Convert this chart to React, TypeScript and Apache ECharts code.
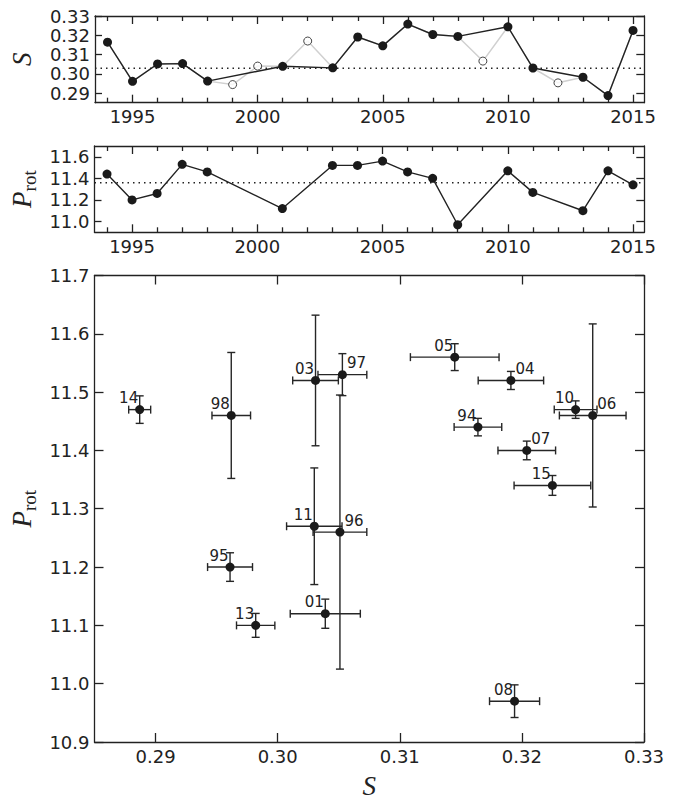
import React, { useEffect, useRef } from "react";
import * as echarts from "echarts";

// ---------- data ----------
const seasonLabels = ["94", "95", "96", "97", "98", "01", "03", "04", "05", "06", "07", "08", "10", "11", "13", "14", "15"];
const seasonYears = [1994, 1995, 1996, 1997, 1998, 2001, 2003, 2004, 2005, 2006, 2007, 2008, 2010, 2011, 2013, 2014, 2015];
const sValues = [0.3164, 0.2961, 0.3051, 0.3053, 0.2962, 0.3039, 0.3031, 0.3191, 0.3145, 0.3258, 0.3204, 0.3194, 0.3244, 0.3030, 0.2982, 0.2887, 0.3225];
const sErrors = [0.00195, 0.00184, 0.0022, 0.0020, 0.00158, 0.00287, 0.00187, 0.00268, 0.00363, 0.00273, 0.00236, 0.00205, 0.00175, 0.00227, 0.00157, 0.0009, 0.00314];
const pRotValues = [11.44, 11.20, 11.26, 11.53, 11.46, 11.12, 11.52, 11.52, 11.56, 11.46, 11.40, 10.97, 11.47, 11.27, 11.10, 11.47, 11.34];
const pRotErrors = [0.015, 0.0245, 0.235, 0.036, 0.108, 0.025, 0.112, 0.0155, 0.023, 0.157, 0.016, 0.028, 0.015, 0.10, 0.0205, 0.0236, 0.017];

const openYears = [1999, 2000, 2002, 2009, 2012];
const openSValues = [0.2944, 0.3040, 0.3170, 0.3066, 0.2953];

const sMeanLevel = 0.3029;
const pRotMeanLevel = 11.36;

const yearMajorTicks = [1995, 2000, 2005, 2010, 2015];
const yearMinorTicks = [1994, 1996, 1997, 1998, 1999, 2001, 2002, 2003, 2004, 2006, 2007, 2008, 2009, 2011, 2012, 2013, 2014];
const sTicks = [0.29, 0.30, 0.31, 0.32, 0.33];
const pRotPanelTicks = [11.0, 11.2, 11.4, 11.6];
const scatterXTicks = [0.29, 0.30, 0.31, 0.32, 0.33];
const scatterYTicks = [10.9, 11.0, 11.1, 11.2, 11.3, 11.4, 11.5, 11.6, 11.7];

// label placement (style): these season labels sit to the right of their point
const rightLabelSeasons = ["97", "96", "06", "04", "07"];

// ---------- style ----------
const INK = "#222";
const tickFont = { fontFamily: "DejaVu Sans", fontSize: 18, color: INK };
const titleFont = { fontFamily: "Liberation Serif", fontStyle: "italic", fontSize: 27, color: INK };
const protRich = {
  p: { fontFamily: "Liberation Serif", fontStyle: "italic", fontSize: 27, color: INK, verticalAlign: "bottom", padding: [0, 0, 3, 0] },
  s: { fontFamily: "Liberation Serif", fontSize: 19, color: INK, verticalAlign: "bottom" },
};

const YEAR_MIN = 1993.5;
const YEAR_MAX = 2015.45;

function xAx(grid: number, min: number, max: number, position: string, ticks: number[], len: number, line: boolean, labels?: number[], fmt?: (v: number) => string, extra: any = {}) {
  return {
    type: "value",
    gridIndex: grid,
    min,
    max,
    position,
    axisLine: { show: line, onZero: false, lineStyle: { color: INK, width: 1.3 } },
    axisTick: { show: true, inside: true, length: len, customValues: ticks, lineStyle: { color: INK, width: 1.3 } },
    axisLabel: labels ? { show: true, customValues: labels, formatter: fmt, margin: 5, ...tickFont } : { show: false },
    splitLine: { show: false },
    ...extra,
  };
}

function yAx(grid: number, min: number, max: number, position: string, ticks: number[], len: number, labels?: number[], fmt?: (v: number) => string, extra: any = {}) {
  return {
    type: "value",
    gridIndex: grid,
    min,
    max,
    position,
    axisLine: { show: true, onZero: false, lineStyle: { color: INK, width: 1.3 } },
    axisTick: { show: true, inside: true, length: len, customValues: ticks, lineStyle: { color: INK, width: 1.3 } },
    axisLabel: labels ? { show: true, customValues: labels, formatter: fmt, margin: 5, ...tickFont } : { show: false },
    splitLine: { show: false },
    ...extra,
  };
}

export default function App() {
  const ref = useRef<HTMLDivElement>(null);

  useEffect(() => {
    const chart = echarts.init(ref.current!, undefined, { renderer: "svg" });

    const filledS = seasonYears.map((y, i) => [y, sValues[i]]);
    const openS = openYears.map((y, i) => [y, openSValues[i]]);
    const allS = [...filledS, ...openS].sort((a, b) => a[0] - b[0]);
    const pRotSeries = seasonYears.map((y, i) => [y, pRotValues[i]]);
    const scatterData = seasonLabels.map((_, i) => [sValues[i], pRotValues[i], sErrors[i], pRotErrors[i]]);

    const f2 = (v: number) => v.toFixed(2);
    const f1 = (v: number) => v.toFixed(1);
    const fy = (v: number) => String(Math.round(v));

    const dotted = { type: [1.5, 4], color: INK, width: 1.5 };

    const option: any = {
      animation: false,
      backgroundColor: "#fff",
      grid: [
        { left: 94.5, top: 16, width: 549.8, height: 86.7 },
        { left: 94.5, top: 146, width: 549.8, height: 86.3 },
        { left: 94.5, top: 275.5, width: 549.5, height: 474 },
      ],
      xAxis: [
        xAx(0, YEAR_MIN, YEAR_MAX, "bottom", yearMajorTicks, 8, true, yearMajorTicks, fy),
        xAx(0, YEAR_MIN, YEAR_MAX, "bottom", yearMinorTicks, 5, false),
        xAx(0, YEAR_MIN, YEAR_MAX, "top", yearMajorTicks, 8, true),
        xAx(0, YEAR_MIN, YEAR_MAX, "top", yearMinorTicks, 5, false),
        xAx(1, YEAR_MIN, YEAR_MAX, "bottom", yearMajorTicks, 8, true, yearMajorTicks, fy),
        xAx(1, YEAR_MIN, YEAR_MAX, "bottom", yearMinorTicks, 5, false),
        xAx(1, YEAR_MIN, YEAR_MAX, "top", yearMajorTicks, 8, true),
        xAx(1, YEAR_MIN, YEAR_MAX, "top", yearMinorTicks, 5, false),
        xAx(2, 0.285, 0.33, "bottom", scatterXTicks, 9, true, scatterXTicks, f2, {
          name: "S",
          nameLocation: "middle",
          nameGap: 30,
          nameTextStyle: titleFont,
        }),
        xAx(2, 0.285, 0.33, "top", scatterXTicks, 9, true),
      ],
      yAxis: [
        yAx(0, 0.285, 0.33, "left", sTicks, 7, sTicks, f2, {
          name: "S",
          nameLocation: "middle",
          nameGap: 60,
          nameRotate: 90,
          nameTextStyle: titleFont,
        }),
        yAx(0, 0.285, 0.33, "right", sTicks, 8),
        yAx(1, 10.9, 11.7, "left", pRotPanelTicks, 7, pRotPanelTicks, f1, {
          name: "{p|P}{s|rot}",
          nameLocation: "middle",
          nameGap: 56,
          nameRotate: 90,
          nameTextStyle: { rich: protRich },
        }),
        yAx(1, 10.9, 11.7, "right", pRotPanelTicks, 8),
        yAx(2, 10.9, 11.7, "left", scatterYTicks, 9, scatterYTicks, f1, {
          name: "{p|P}{s|rot}",
          nameLocation: "middle",
          nameGap: 50,
          nameRotate: 90,
          nameTextStyle: { rich: protRich },
        }),
        yAx(2, 10.9, 11.7, "right", scatterYTicks, 9),
      ],
      series: [
        {
          type: "line",
          xAxisIndex: 0,
          yAxisIndex: 0,
          data: [[YEAR_MIN, sMeanLevel], [YEAR_MAX, sMeanLevel]],
          symbol: "none",
          lineStyle: dotted,
          z: 2,
          silent: true,
        },
        {
          type: "line",
          xAxisIndex: 0,
          yAxisIndex: 0,
          data: allS,
          symbol: "none",
          lineStyle: { color: "#d0d0d0", width: 1.5 },
          z: 1,
          silent: true,
        },
        {
          type: "line",
          xAxisIndex: 0,
          yAxisIndex: 0,
          data: filledS,
          symbol: "circle",
          symbolSize: 9,
          itemStyle: { color: "#1a1a1a" },
          lineStyle: { color: INK, width: 1.4 },
          z: 3,
        },
        {
          type: "scatter",
          xAxisIndex: 0,
          yAxisIndex: 0,
          data: openS,
          symbol: "circle",
          symbolSize: 8,
          itemStyle: { color: "#fff", borderColor: "#1a1a1a", borderWidth: 1 },
          z: 4,
        },
        {
          type: "line",
          xAxisIndex: 4,
          yAxisIndex: 2,
          data: [[YEAR_MIN, pRotMeanLevel], [YEAR_MAX, pRotMeanLevel]],
          symbol: "none",
          lineStyle: dotted,
          z: 2,
          silent: true,
        },
        {
          type: "line",
          xAxisIndex: 4,
          yAxisIndex: 2,
          data: pRotSeries,
          symbol: "circle",
          symbolSize: 9,
          itemStyle: { color: "#1a1a1a" },
          lineStyle: { color: INK, width: 1.4 },
          z: 3,
        },
        {
          type: "custom",
          xAxisIndex: 8,
          yAxisIndex: 4,
          data: scatterData,
          encode: { x: 0, y: 1 },
          clip: false,
          renderItem: (params: any, api: any) => {
            const x = api.value(0);
            const y = api.value(1);
            const ex = api.value(2);
            const ey = api.value(3);
            const c = api.coord([x, y]);
            const l = api.coord([x - ex, y])[0];
            const r = api.coord([x + ex, y])[0];
            const t = api.coord([x, y + ey])[1];
            const b = api.coord([x, y - ey])[1];
            const cap = 4;
            const ls = { stroke: "#262626", lineWidth: 1.4 };
            const lab = seasonLabels[params.dataIndex];
            const right = rightLabelSeasons.indexOf(lab) >= 0;
            return {
              type: "group",
              children: [
                { type: "text", x: right ? c[0] + 4.5 : c[0] - 1.5, y: c[1] - 11.5, style: { text: lab, align: right ? "left" : "right", verticalAlign: "middle", fontSize: 15, fontFamily: "DejaVu Sans", fill: INK } },
                { type: "line", shape: { x1: l, y1: c[1], x2: r, y2: c[1] }, style: ls },
                { type: "line", shape: { x1: l, y1: c[1] - cap, x2: l, y2: c[1] + cap }, style: ls },
                { type: "line", shape: { x1: r, y1: c[1] - cap, x2: r, y2: c[1] + cap }, style: ls },
                { type: "line", shape: { x1: c[0], y1: t, x2: c[0], y2: b }, style: ls },
                { type: "line", shape: { x1: c[0] - cap, y1: t, x2: c[0] + cap, y2: t }, style: ls },
                { type: "line", shape: { x1: c[0] - cap, y1: b, x2: c[0] + cap, y2: b }, style: ls },
                { type: "circle", shape: { cx: c[0], cy: c[1], r: 4.5 }, style: { fill: "#1a1a1a" } },
              ],
            };
          },
        },
      ],
    };

    chart.setOption(option);
    return () => chart.dispose();
  }, []);

  return (
    <div
      ref={ref}
      style={{ position: "fixed", left: 0, top: 0, width: 685, height: 804, background: "#fff" }}
    />
  );
}
